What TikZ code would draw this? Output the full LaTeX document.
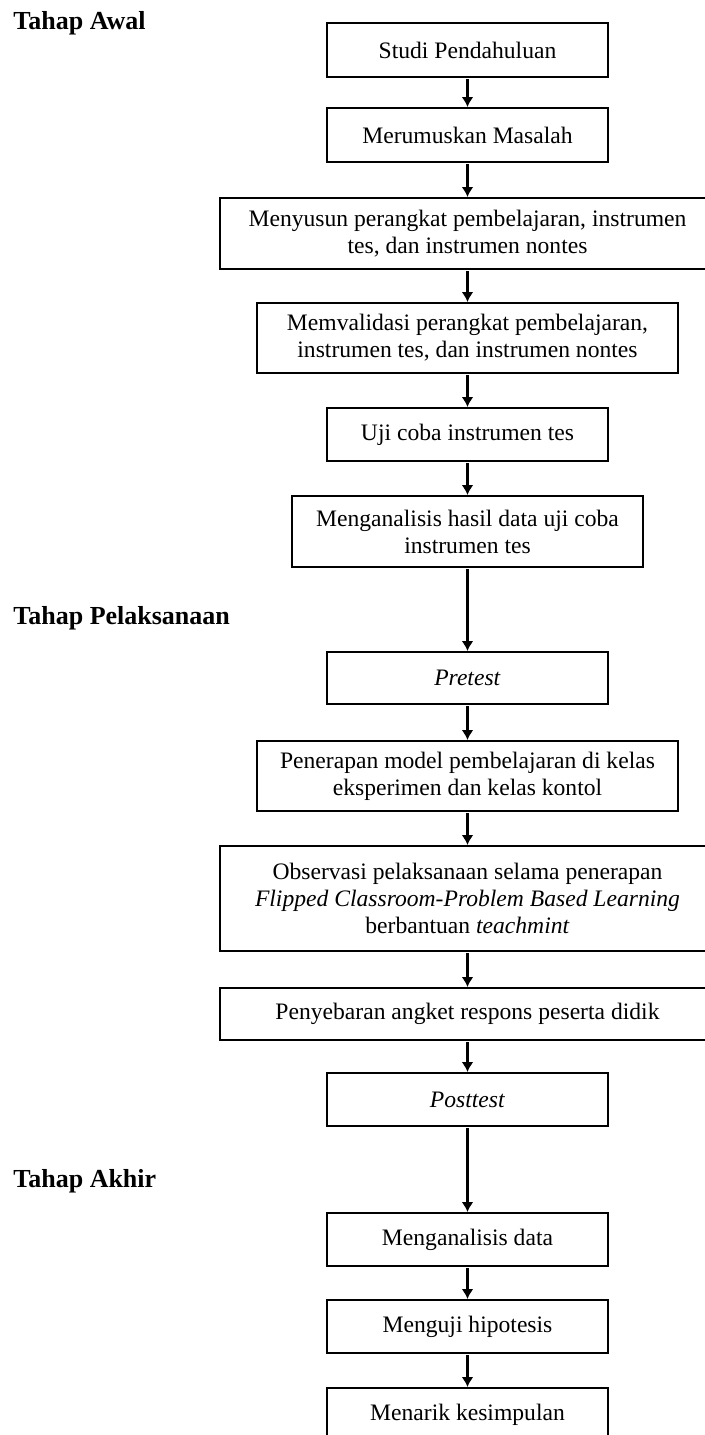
\documentclass[tikz,border=0pt]{standalone}
\usepackage{fontspec}
\setmainfont{Liberation Serif}
\usetikzlibrary{arrows.meta}

\begin{document}
\begin{tikzpicture}[x=0.5pt,y=-0.5pt,
  box/.style={draw,line width=1pt,align=center,inner sep=0pt,
    font=\fontsize{11.8}{13.5}\selectfont,minimum width=140.5pt,minimum height=26.5pt},
  stage/.style={anchor=west,inner sep=0pt,font=\fontsize{13}{15}\selectfont\bfseries},
  flow/.style={-{Latex[length=5pt,width=6pt]},line width=1.5pt,shorten <=0.5pt}]
\useasboundingbox (0,0) rectangle (705,1435);

\node[stage] (awal) at (13,23) {Tahap Awal};
\node[stage] (pelaksanaan) at (13,618) {Tahap Pelaksanaan};
\node[stage] (akhir) at (13,1181) {Tahap Akhir};

\node[box,minimum height=27pt] (studi) at (467.5,50) {Studi Pendahuluan};
\node[box,minimum height=27pt] (masalah) at (467.5,135) {Merumuskan Masalah};
\node[box,minimum width=248pt,minimum height=35.5pt] (susun) at (467.5,233.5) {Menyusun perangkat pembelajaran, instrumen\\tes, dan instrumen nontes};
\node[box,minimum width=210.5pt,minimum height=35pt] (validasi) at (467.5,338) {Memvalidasi perangkat pembelajaran,\\instrumen tes, dan instrumen nontes};
\node[box] (ujicoba) at (467.5,434.5) {Uji coba instrumen tes};
\node[box,minimum width=175.5pt,minimum height=35.5pt] (analisisuji) at (467.5,531.5) {Menganalisis hasil data uji coba\\instrumen tes};

\node[box,minimum height=26pt] (pretest) at (467.5,678) {\textit{Pretest}};
\node[box,minimum width=210.5pt,minimum height=35pt] (penerapan) at (467.5,776) {Penerapan model pembelajaran di kelas\\eksperimen dan kelas kontol};
\node[box,minimum width=248pt,minimum height=52.5pt] (observasi) at (467.5,898.5) {Observasi pelaksanaan selama penerapan\\\textit{Flipped Classroom-Problem Based Learning}\\berbantuan \textit{teachmint}};
\node[box,minimum width=248pt,minimum height=26pt] (angket) at (467.5,1014) {Penyebaran angket respons peserta didik};
\node[box] (posttest) at (467.5,1099.5) {\textit{Posttest}};

\node[box] (analisis) at (467.5,1239.5) {Menganalisis data};
\node[box] (hipotesis) at (467.5,1326.5) {Menguji hipotesis};
\node[box] (simpulan) at (467.5,1414.5) {Menarik kesimpulan};

\foreach \a/\b in {studi/masalah,masalah/susun,susun/validasi,validasi/ujicoba,
  ujicoba/analisisuji,analisisuji/pretest,pretest/penerapan,penerapan/observasi,
  observasi/angket,angket/posttest,posttest/analisis,analisis/hipotesis,hipotesis/simpulan}
  \draw[flow] (\a.south) -- (\b.north);

\end{tikzpicture}
\end{document}
